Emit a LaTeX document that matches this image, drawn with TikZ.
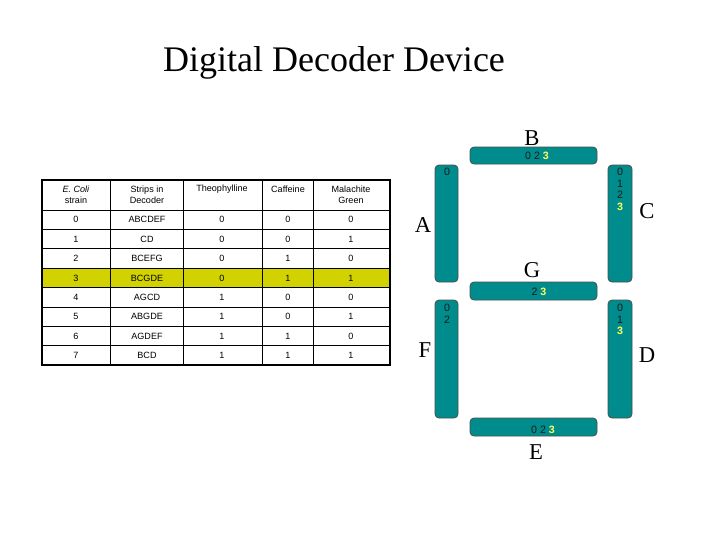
\documentclass[tikz,border=0pt]{standalone}
\usepackage{fontspec}
\setmainfont{Liberation Serif}
\newfontfamily\tabfont{Liberation Sans}
\definecolor{seg}{RGB}{0,140,140}
\definecolor{hl}{RGB}{210,210,0}
\definecolor{yd}{RGB}{255,255,90}
\begin{document}
\begin{tikzpicture}[x=0.75pt,y=-0.75pt,
  segbox/.style={draw=black!70,fill=seg,rounded corners=3pt,line width=0.6pt},
  lett/.style={font=\fontsize{17}{17}\selectfont,inner sep=0},
  dig/.style={font=\tabfont\fontsize{8}{8.6}\selectfont,text=black!90,inner sep=0,align=center,anchor=north},
  cell/.style={font=\tabfont\fontsize{6.8}{8}\selectfont,inner sep=0,align=center}]
\useasboundingbox (0,0) rectangle (720,540);
\node (title) at (334,63) {\fontsize{27}{27}\selectfont Digital Decoder Device};
% table
\fill[hl] (42,268) rectangle (390,287);
\def\rws{{180,210,229.4,248.8,268.2,287.6,307,326.4,345.8,365.2}}
\foreach \i in {1,...,8}{\pgfmathsetmacro\yy{\rws[\i]}\draw[line width=0.5pt] (42,\yy)--(390,\yy);}
\foreach \xx in {110,183,262,313}{\draw[line width=0.5pt] (\xx,180)--(\xx,365);}
\draw[line width=1.5pt] (42,180) rectangle (390,365);
\node[cell] (h1) at (76,195) {\textit{E. Coli}\\strain};
\node[cell] (h2) at (147,195) {Strips in\\Decoder};
\node[cell] (h3) at (222,189) {Theophylline};
\node[cell] (h4) at (288,189) {Caffeine};
\node[cell] (h5) at (351,195) {Malachite\\Green};
\foreach \n/\s/\a/\b/\c [count=\k] in {0/ABCDEF/0/0/0,1/CD/0/0/1,2/BCEFG/0/1/0,3/BCGDE/0/1/1,4/AGCD/1/0/0,5/ABGDE/1/0/1,6/AGDEF/1/1/0,7/BCD/1/1/1}{
  \pgfmathsetmacro\yc{210+19.4*(\k-0.5)}
  \node[cell] (r\k a) at (76,\yc) {\n};
  \node[cell] (r\k b) at (147,\yc) {\s};
  \node[cell] (r\k c) at (222,\yc) {\a};
  \node[cell] (r\k d) at (288,\yc) {\b};
  \node[cell] (r\k e) at (351,\yc) {\c};
}
% segments
\draw[segbox] (470,147) rectangle (597,164);
\draw[segbox] (435,165) rectangle (458,282);
\draw[segbox] (608,165) rectangle (632,282);
\draw[segbox] (470,282) rectangle (597,300);
\draw[segbox] (435,300) rectangle (458,418);
\draw[segbox] (608,300) rectangle (632,418);
\draw[segbox] (470,418) rectangle (597,436);
\newcommand\Y{\textcolor{yd}{\textbf{3}}}
\node[dig,anchor=center] (dB) at (537,156) {0 2 \Y};
\node[dig,anchor=center] (dG) at (539,292) {2 \Y};
\node[dig,anchor=center] (dE) at (543,430) {0 2 \Y};
\node[dig] (dA) at (447,168) {0};
\node[dig] (dC) at (620,168) {0\\1\\2\\\Y};
\node[dig] (dF) at (447,304) {0\\2};
\node[dig] (dD) at (620,304) {0\\1\\\Y};
\node[lett] (B) at (532,138) {B};
\node[lett] (C) at (647,211) {C};
\node[lett] (A) at (423,225) {A};
\node[lett] (G) at (532,270) {G};
\node[lett] (F) at (425,350) {F};
\node[lett] (D) at (647,355) {D};
\node[lett] (E) at (536,452) {E};
\end{tikzpicture}
\end{document}
